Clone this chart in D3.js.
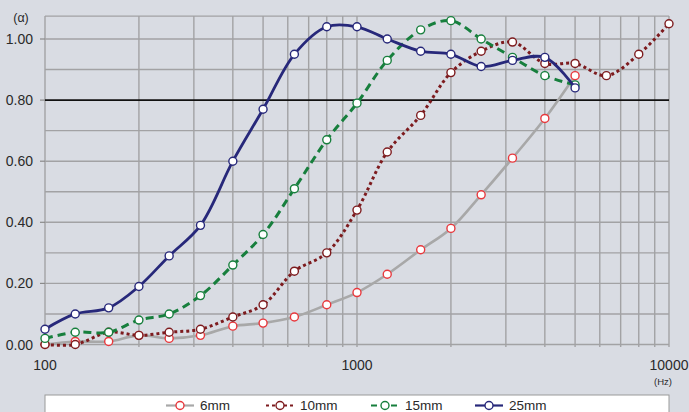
<!DOCTYPE html>
<html><head><meta charset="utf-8">
<script src="https://cdn.jsdelivr.net/npm/d3@7"></script>
<style>
html,body{margin:0;padding:0;background:#d9dce3;}
svg{display:block;font-family:"Liberation Sans",Arial,sans-serif;}
</style></head>
<body>
<svg id="chart" width="689" height="412"></svg>
<script>
const freqs = [100,125,160,200,250,315,400,500,630,800,1000,1250,1600,2000,2500,3150,4000,5000,6300,8000,10000];
const s6mm  = [0.00,0.01,0.01,0.03,0.02,0.03,0.06,0.07,0.09,0.13,0.17,0.23,0.31,0.38,0.49,0.61,0.74,0.88];
const s10mm = [0.00,0.00,0.04,0.03,0.04,0.05,0.09,0.13,0.24,0.30,0.44,0.63,0.75,0.89,0.96,0.99,0.92,0.92,0.88,0.95,1.05];
const s15mm = [0.02,0.04,0.04,0.08,0.10,0.16,0.26,0.36,0.51,0.67,0.79,0.93,1.03,1.06,1.00,0.94,0.88,0.85];
const s25mm = [0.05,0.10,0.12,0.19,0.29,0.39,0.60,0.77,0.95,1.04,1.04,1.00,0.96,0.95,0.91,0.93,0.94,0.84];
const seriesNames = ["6mm","10mm","15mm","25mm"];
const yTicks = [0.00,0.20,0.40,0.60,0.80,1.00];
const xTicks = [100,1000,10000];

const series = [
  {name:seriesNames[0], vals:s6mm,  line:"#a8a8a8", mark:"#e8383d", dash:null, w:2.6},
  {name:seriesNames[1], vals:s10mm, line:"#7d1b1e", mark:"#7d1b1e", dash:"3,3", w:3},
  {name:seriesNames[2], vals:s15mm, line:"#177f3d", mark:"#177f3d", dash:"8,5", w:3},
  {name:seriesNames[3], vals:s25mm, line:"#27287a", mark:"#27287a", dash:null, w:2.8}
];

const svg = d3.select("#chart");
const x = d3.scaleLog().domain([100,10000]).range([45,669]);
const y = d3.scaleLinear().domain([0,1]).range([344.5,39]);
const yTop = y(1.075), yBot = 347;

const grid = svg.append("g");
const vlines = [];
for (let d=100; d<10000; d*=10) for (let k=1;k<=9;k++) vlines.push(d*k);
vlines.push(10000);
grid.selectAll("line.v").data(vlines).join("line")
  .attr("x1",d=>x(d)).attr("x2",d=>x(d)).attr("y1",yTop).attr("y2",yBot)
  .attr("stroke","#a2a2a4").attr("stroke-width",1.4);
const hlines = d3.range(0,11).map(i=>i/10);
grid.selectAll("line.h").data(hlines).join("line")
  .attr("x1",45).attr("x2",669).attr("y1",d=>y(d)).attr("y2",d=>y(d))
  .attr("stroke",d=>Math.abs(d-0.8)<1e-9?"#111":"#a2a2a4")
  .attr("stroke-width",d=>Math.abs(d-0.8)<1e-9?1.8:1.4);
grid.append("line").attr("x1",45).attr("x2",669).attr("y1",yTop).attr("y2",yTop)
  .attr("stroke","#a2a2a4").attr("stroke-width",1.4);

const yAxis = svg.append("g");
yAxis.selectAll("line").data(yTicks).join("line")
  .attr("x1",40).attr("x2",45).attr("y1",d=>y(d)).attr("y2",d=>y(d))
  .attr("stroke","#8a8a8a").attr("stroke-width",1.2);
yAxis.selectAll("text").data(yTicks).join("text")
  .attr("x",33).attr("y",d=>y(d)).attr("dy","0.36em")
  .attr("text-anchor","end").attr("font-size",14).attr("fill","#2a2a2a")
  .text(d=>d3.format(".2f")(d));
svg.append("text").attr("x",21).attr("y",18).attr("dy","0.35em")
  .attr("text-anchor","middle").attr("font-size",12.5).attr("fill","#2a2a2a").text("(α)");

svg.append("g").selectAll("text").data(xTicks).join("text")
  .attr("x",d=>x(d)).attr("y",365).attr("dy","0.36em")
  .attr("text-anchor","middle").attr("font-size",14).attr("fill","#2a2a2a")
  .text(d=>d);
svg.append("text").attr("x",663).attr("y",382).attr("dy","0.35em")
  .attr("text-anchor","middle").attr("font-size",9.5).attr("fill","#2a2a2a").text("(Hz)");

const lineGen = d3.line().x(d=>x(d[0])).y(d=>y(d[1])).curve(d3.curveCatmullRom.alpha(0.5));
series.forEach(s=>{
  const pts = s.vals.map((v,i)=>[freqs[i],v]);
  const g = svg.append("g");
  g.append("path").attr("d",lineGen(pts)).attr("fill","none")
    .attr("stroke",s.line).attr("stroke-width",s.w)
    .attr("stroke-dasharray",s.dash).attr("stroke-linecap",s.dash?"butt":"round");
  g.selectAll("circle").data(pts).join("circle")
    .attr("cx",d=>x(d[0])).attr("cy",d=>y(d[1])).attr("r",4)
    .attr("fill","#fff").attr("stroke",s.mark).attr("stroke-width",1.4);
});

const lg = svg.append("g");
lg.append("rect").attr("x",45).attr("y",395).attr("width",624).attr("height",30)
  .attr("fill","#fff").attr("stroke","#9a9a9a").attr("stroke-width",1);
const lx = [166,266,371,475];
series.forEach((s,i)=>{
  const ly = 405.5;
  lg.append("line").attr("x1",lx[i]).attr("x2",lx[i]+28).attr("y1",ly).attr("y2",ly)
    .attr("stroke",s.line).attr("stroke-width",2.2).attr("stroke-dasharray",s.dash?(i===1?"3,3":"6,4"):null);
  lg.append("circle").attr("cx",lx[i]+14).attr("cy",ly).attr("r",4)
    .attr("fill","#fff").attr("stroke",s.mark).attr("stroke-width",1.4);
  lg.append("text").attr("x",lx[i]+34).attr("y",ly).attr("dy","0.34em")
    .attr("font-size",13.5).attr("fill","#2a2a2a").text(s.name);
});
</script>
</body></html>
